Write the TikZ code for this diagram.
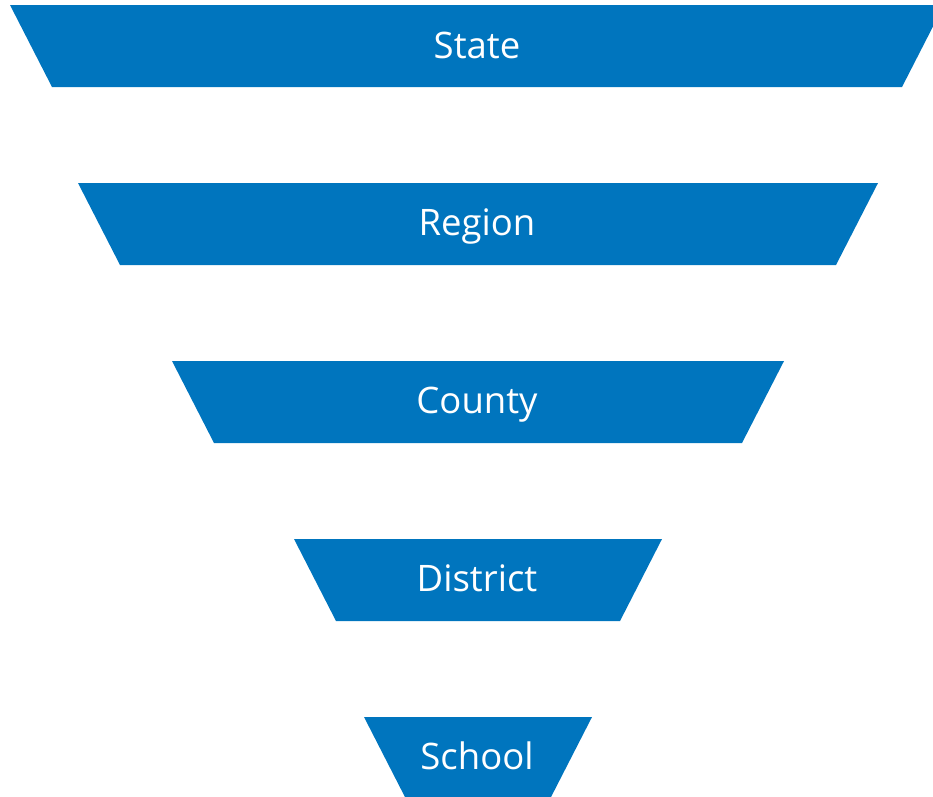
\documentclass[tikz,border=0pt]{standalone}
\usepackage{fontspec}
\setmainfont{Open Sans}
\definecolor{tierblue}{RGB}{0,117,190}
\tikzset{
  tier/.style={fill=tierblue, draw=none},
  tierlabel/.style={text=white, font=\fontsize{36.5}{40}\selectfont, inner sep=0pt, anchor=base}
}
\begin{document}
\begin{tikzpicture}[x=1pt,y=-1pt]
\useasboundingbox (0,0) rectangle (933,796);
% State
\fill[tier] (10,5) -- (944,5) -- (902,87) -- (52,87) -- cycle;
\node[tierlabel] (state) at (477,58) {State};
% Region
\fill[tier] (78,183) -- (878,183) -- (836,265) -- (120,265) -- cycle;
\node[tierlabel] (region) at (477,235) {Region};
% County
\fill[tier] (172,361) -- (784,361) -- (742,443) -- (214,443) -- cycle;
\node[tierlabel] (county) at (477,413) {County};
% District
\fill[tier] (294,539) -- (662,539) -- (620,621) -- (336,621) -- cycle;
\node[tierlabel] (district) at (477,591) {District};
% School
\fill[tier] (364,717) -- (592,717) -- (550,799) -- (406,799) -- cycle;
\node[tierlabel] (school) at (477,769) {School};
\end{tikzpicture}
\end{document}
